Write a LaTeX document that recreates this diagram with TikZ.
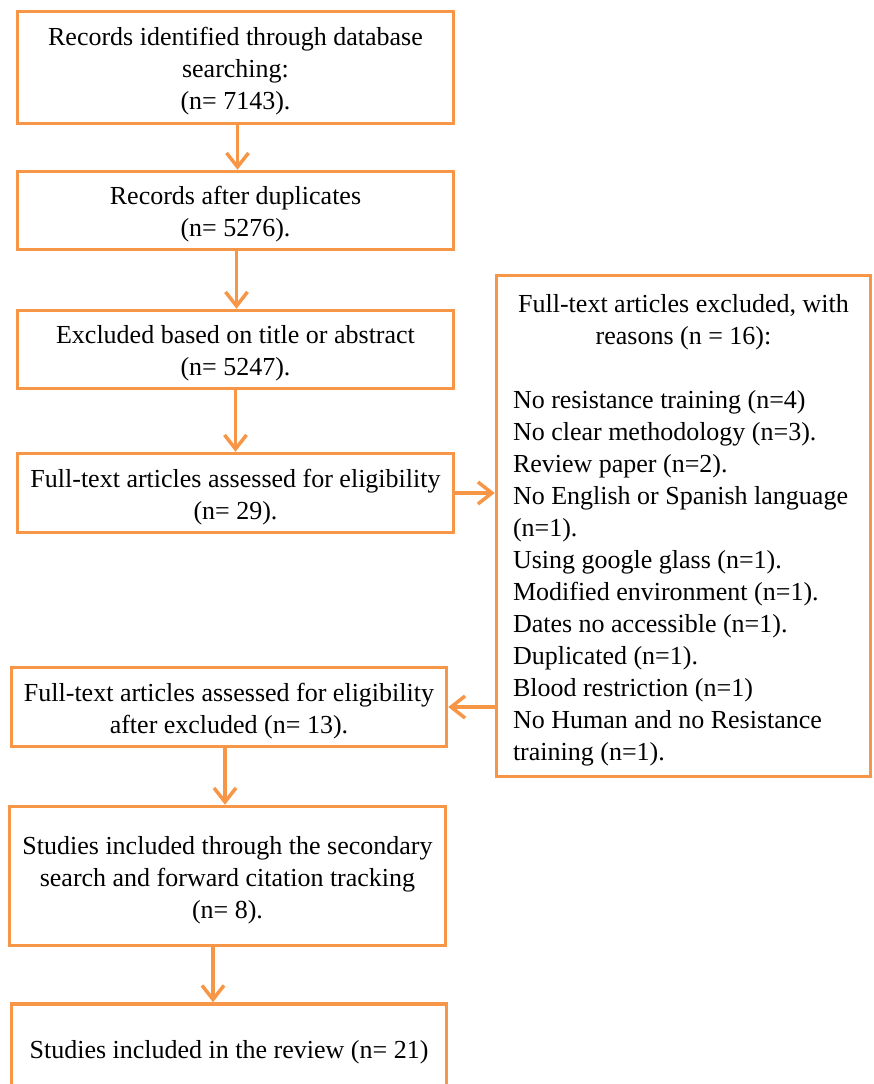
\documentclass[tikz,border=0pt]{standalone}
\usepackage{fontspec}
\setmainfont{Liberation Serif}
\usetikzlibrary{arrows.meta}
\definecolor{prisma}{HTML}{F79646}
\newcommand{\strt}{\rule{0pt}{26.5pt}}
\tikzset{
  box/.style={draw=prisma, line width=3.5pt, rectangle, inner sep=0pt, align=center,
    font=\fontsize{26}{32}\selectfont},
  arr/.style={draw=prisma, line width=3.5pt, -{Straight Barb[length=14pt,width=22pt,line width=3.5pt]}}
}
\begin{document}
\begin{tikzpicture}[x=1pt,y=-1pt]
\useasboundingbox (0,0) rectangle (874,1084);
\node[box, minimum width=436pt, minimum height=112pt] (b1) at (235.5,67.5)
  {\strt Records identified through database\\ searching:\\ (n= 7143).};
\node[box, minimum width=436pt, minimum height=78pt] (b2) at (235.5,210.5)
  {\strt Records after duplicates\\ (n= 5276).};
\node[box, minimum width=436pt, minimum height=78pt] (b3) at (235.5,349.5)
  {\strt Excluded based on title or abstract\\ (n= 5247).};
\node[box, minimum width=436pt, minimum height=79pt] (b4) at (235.5,493)
  {\strt Full-text articles assessed for eligibility\\ (n= 29).};
\node[box, minimum width=374pt, minimum height=501pt, align=left] (ex) at (683.5,526)
  {\makebox[341pt][c]{\strt Full-text articles excluded, with}\\
   \makebox[341pt][c]{reasons (n = 16):}\\[32pt]
   No resistance training (n=4)\\
   No clear methodology (n=3).\\
   Review paper (n=2).\\
   No English or Spanish language\\
   (n=1).\\
   Using google glass (n=1).\\
   Modified environment (n=1).\\
   Dates no accessible (n=1).\\
   Duplicated (n=1).\\
   Blood restriction (n=1)\\
   No Human and no Resistance\\
   training (n=1).};
\node[box, minimum width=435pt, minimum height=79pt] (b5) at (229,707)
  {\strt Full-text articles assessed for eligibility\\ after excluded (n= 13).};
\node[box, minimum width=436pt, minimum height=139pt] (b6) at (227.5,876)
  {\strt Studies included through the secondary\\ search and forward citation tracking\\ (n= 8).};
\node[box, minimum width=435pt, minimum height=88pt] (b7) at (229,1048)
  {\strt Studies included in the review (n= 21)};
\draw[arr] ([xshift=2pt]b1.south) -- ([xshift=2pt]b2.north);
\draw[arr] ([xshift=1pt]b2.south) -- ([xshift=1pt]b3.north);
\draw[arr] (b3.south) -- (b4.north);
\draw[arr] (b4.east) -- (ex.west |- b4.east);
\draw[arr] (ex.west |- b5.east) -- (b5.east);
\draw[arr] ([xshift=-4pt]b5.south) -- ([xshift=-2.5pt]b6.north);
\draw[arr] ([xshift=-14.5pt]b6.south) -- ([xshift=-16pt]b7.north);
\end{tikzpicture}
\end{document}
